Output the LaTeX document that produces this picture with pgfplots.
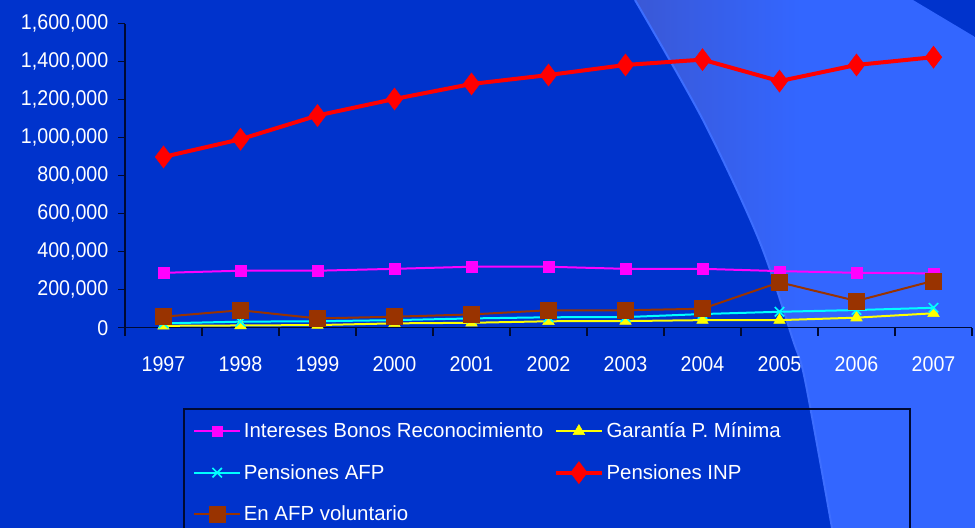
\documentclass[border=0pt]{standalone}
\usepackage{fontspec}
\setmainfont{Liberation Sans}
\newfontfamily\tickfont{Liberation Sans}[FakeStretch=0.92]
\usepackage{pgfplots}
\pgfplotsset{compat=1.18}
\definecolor{bgdark}{HTML}{0033CC}
\definecolor{bglight}{HTML}{3366FF}
\definecolor{bgband}{HTML}{3A58D6}
\definecolor{edgeline}{HTML}{3D6EFF}
\definecolor{axisdark}{HTML}{000A33}
\definecolor{bonos}{HTML}{FF00FF}
\definecolor{garantia}{HTML}{FFFF00}
\definecolor{afp}{HTML}{00FFFF}
\definecolor{inp}{HTML}{FF0000}
\definecolor{volunt}{HTML}{993300}

\newcommand{\lblfont}{\tickfont\fontsize{16}{19}\selectfont}
\newcommand{\legfont}{\fontsize{15.3}{18}\selectfont}
% left edge of the light panel (px, y measured upward)
\def\paneledge{(635,528) (703,408) (759,288) (793,188) (805,148) (832,0)}

\begin{document}
\begin{tikzpicture}[x=0.75pt,y=0.75pt]
\useasboundingbox (0,0) rectangle (975,528);
\clip (0,0) rectangle (975,528);
% slide background
\fill[bgdark] (0,0) rectangle (975,528);
\begin{scope}
  \clip plot[smooth] coordinates \paneledge
    -- (975,0) -- (975,491) -- (913,528) -- cycle;
  \fill[bglight] (600,0) rectangle (975,528);
  \shade[left color=bgband, right color=bglight] (635,0) rectangle (800,528);
\end{scope}
\draw[edgeline, line width=1.5] plot[smooth] coordinates \paneledge;

\begin{axis}[
  at={(93.75pt,150.2pt)}, anchor=south west,
  width=635.25pt, height=228pt, scale only axis,
  xmin=-0.5, xmax=10.5, ymin=0, ymax=1600000,
  clip=false,
  axis lines*=left,
  axis line style={axisdark, line width=1.1pt},
  xtick={0,...,10},
  xticklabels={1997,1998,1999,2000,2001,2002,2003,2004,2005,2006,2007},
  major x tick style={draw=none},
  minor xtick={-0.5,0.5,...,10.5},
  tick align=outside,
  major tick length=5pt, minor tick length=6pt,
  tick style={axisdark, line width=0.9pt},
  ytick={0,200000,...,1600000},
  scaled y ticks=false,
  /pgf/number format/fixed,
  /pgf/number format/1000 sep={,},
  /pgf/number format/assume math mode=true,
  tick label style={font=\lblfont, text=white},
  xticklabel style={yshift=-13pt},
  yticklabel style={xshift=-4pt},
  legend columns=2,
  legend cell align=left,
  legend style={at={(0.0755,-0.294)}, anchor=north west, draw=none, fill=none,
    text=white, font=\legfont, row sep=14.4pt,
    /tikz/every even column/.append style={column sep=6pt}},
  legend image code/.code={\draw[mark repeat=2,mark phase=2]
    plot coordinates {(0pt,0pt) (17.25pt,0pt) (34.5pt,0pt)};},
]
\addplot[bonos, line width=1.5pt, mark=square*, mark size=4pt, mark options={line width=0.4pt}]
  coordinates {(0,289000)(1,300000)(2,300000)(3,310000)(4,321000)(5,321000)(6,310000)(7,310000)(8,298000)(9,289000)(10,286000)};
\addlegendentry{Intereses Bonos Reconocimiento}
\addplot[garantia, line width=1.5pt, mark=triangle*, mark size=5pt, mark options={line width=0.4pt}]
  coordinates {(0,10000)(1,12000)(2,14000)(3,23000)(4,26000)(5,34000)(6,35000)(7,40000)(8,40000)(9,53000)(10,76000)};
\addlegendentry{Garantía P. Mínima}
\addplot[afp, line width=1.5pt, mark=x, mark size=5pt, mark options={line width=1.2pt}]
  coordinates {(0,23000)(1,32000)(2,34000)(3,40000)(4,49000)(5,55000)(6,56000)(7,72000)(8,84000)(9,93000)(10,105000)};
\addlegendentry{Pensiones AFP}
\addplot[inp, line width=3pt, mark=diamond*, mark size=8.25pt, mark options={line width=0.4pt}]
  coordinates {(0,899000)(1,992000)(2,1117000)(3,1204000)(4,1283000)(5,1330000)(6,1383000)(7,1411000)(8,1298000)(9,1383000)(10,1424000)};
\addlegendentry{Pensiones INP}
\addplot[volunt, line width=1.5pt, mark=square*, mark size=6pt, mark options={line width=0.4pt}]
  coordinates {(0,58000)(1,92000)(2,49000)(3,58000)(4,70000)(5,92000)(6,92000)(7,100000)(8,239000)(9,141000)(10,247000)};
\addlegendentry{En AFP voluntario}
\end{axis}

% legend frame
\draw[axisdark, line width=1.1pt] (184,-10) rectangle (910,119);
\end{tikzpicture}
\end{document}
